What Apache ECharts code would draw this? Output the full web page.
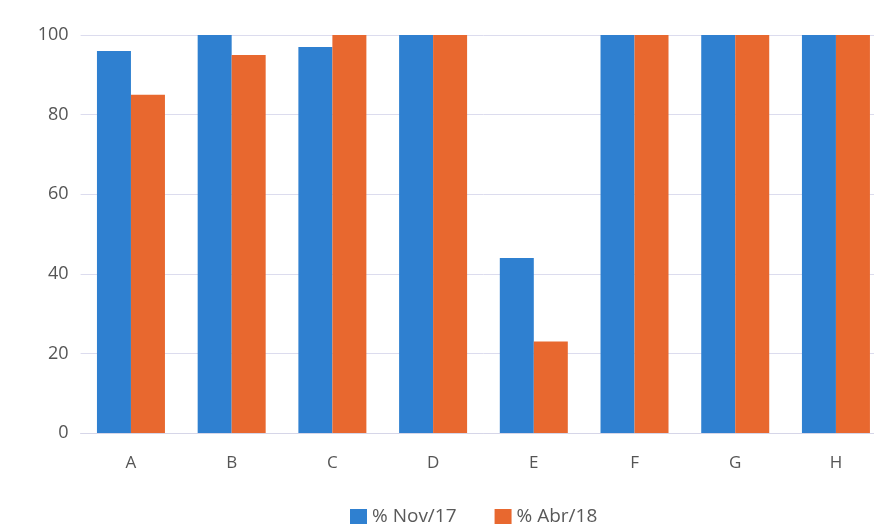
<!DOCTYPE html>
<html>
<head>
<meta charset="utf-8">
<script src="https://cdn.jsdelivr.net/npm/echarts@6/dist/echarts.min.js"></script>
<style>
  html, body { margin: 0; padding: 0; background: #ffffff; overflow: hidden; }
  /* the plot runs slightly past the right edge of the page, so the canvas is wider than the window */
  #chart { width: 900px; height: 525px; }
</style>
</head>
<body>
<div id="chart"></div>
<script>
// Category names along the x axis
const categories = ['A', 'B', 'C', 'D', 'E', 'F', 'G', 'H'];
// Percentages for each period
const nov17 = [96, 100, 97, 100, 44, 100, 100, 100];
const abr18 = [85, 95, 100, 100, 23, 100, 100, 100];
// Legend names
const seriesNames = ['% Nov/17', '% Abr/18'];

const chart = echarts.init(document.getElementById('chart'), null, { renderer: 'canvas' });

const labelFont = "'Open Sans', 'Noto Sans', sans-serif";

chart.setOption({
  animation: false,
  backgroundColor: '#ffffff',
  grid: { left: 80.6, top: 35, width: 805.7, height: 398, containLabel: false },
  legend: {
    top: 507,
    left: 350,
    padding: 0,
    itemWidth: 17,
    itemHeight: 15,
    itemGap: 38,
    icon: 'rect',
    textStyle: { color: '#595959', fontSize: 19, fontFamily: labelFont },
    data: seriesNames
  },
  xAxis: {
    type: 'category',
    data: categories,
    axisLine: { show: true, lineStyle: { color: '#d6d6e8', width: 1 } },
    axisTick: { show: false },
    axisLabel: { color: '#555555', fontSize: 17, fontFamily: labelFont, margin: 22 }
  },
  yAxis: {
    type: 'value',
    min: 0,
    max: 100,
    interval: 20,
    axisLine: { show: false },
    axisTick: { show: false },
    splitLine: { lineStyle: { color: '#dcdcee', width: 1 } },
    axisLabel: { color: '#555555', fontSize: 18, fontFamily: labelFont, margin: 12 }
  },
  series: [
    {
      name: seriesNames[0],
      type: 'bar',
      data: nov17,
      barWidth: 34,
      barGap: '0%',
      itemStyle: { color: '#2f80d0' }
    },
    {
      name: seriesNames[1],
      type: 'bar',
      data: abr18,
      barWidth: 34,
      itemStyle: { color: '#e8682f' }
    }
  ]
});
</script>
</body>
</html>
